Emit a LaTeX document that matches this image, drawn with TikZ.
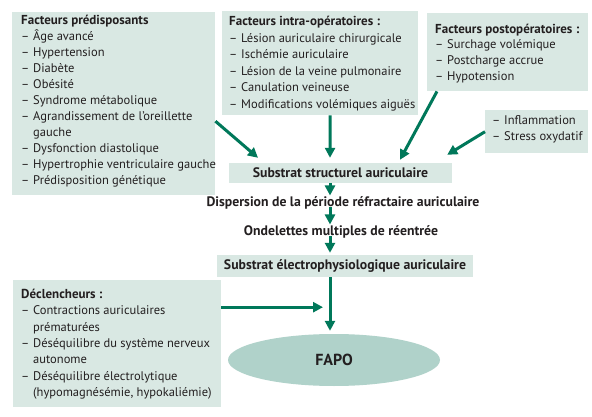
\documentclass[tikz,border=0pt]{standalone}
\usepackage{fontspec}
\setmainfont{PT Sans}
\usetikzlibrary{arrows.meta,shapes.geometric}
\definecolor{boxfill}{HTML}{D9E8E3}
\definecolor{arrowc}{HTML}{00785A}
\definecolor{ellfill}{HTML}{B0D2CA}
\definecolor{txt}{HTML}{231F20}
\newcommand\ttl[1]{\multicolumn{2}{@{}l@{}}{\fontsize{13}{16}\selectfont\bfseries #1}}
\newenvironment{dlist}{\renewcommand\arraystretch{1}\begin{tabular}{@{}l@{\hspace{0.3em}}l@{}}}{\end{tabular}}
\tikzset{
  panel/.style={fill=boxfill, draw=none, inner sep=0pt, anchor=north west},
  ptext/.style={anchor=north west, inner sep=0pt, text=txt,
     font=\fontsize{12.5}{16}\selectfont},
  btext/.style={inner sep=1pt, text=txt, font=\bfseries\fontsize{13.75}{16}\selectfont},
  arr/.style={draw=arrowc, line width=3pt, -{Triangle[length=10pt,width=10pt]}},
}
\begin{document}
\begin{tikzpicture}[x=1pt,y=-1pt]
\useasboundingbox (0,0) rectangle (592,417);
\fill[white] (0,0) rectangle (592,417);
% boxes
\node[panel, minimum width=203pt, minimum height=183pt] (b1) at (12,12) {};
\node[ptext] (b1t) at (21,13.5) {\begin{dlist}\ttl{Facteurs prédisposants}\\
– & Âge avancé\\ – & Hypertension\\ – & Diabète\\ – & Obésité\\ – & Syndrome métabolique\\
– & Agrandissement de l’oreillette\\ & gauche\\ – & Dysfonction diastolique\\
– & Hypertrophie ventriculaire gauche\\ – & Prédisposition génétique\end{dlist}};
\node[panel, minimum width=196pt, minimum height=104pt] (b2) at (222,11) {};
\node[ptext, font=\fontsize{12.5}{16.5}\selectfont] (b2t) at (229,14) {\begin{dlist}\ttl{Facteurs intra-opératoires :}\\
– & Lésion auriculaire chirurgicale\\ – & Ischémie auriculaire\\
– & Lésion de la veine pulmonaire\\ – & Canulation veineuse\\
– & Modifications volémiques aiguës\end{dlist}};
\node[panel, minimum width=161pt, minimum height=78pt] (b3) at (427,13) {};
\node[ptext, font=\fontsize{12.5}{15.7}\selectfont] (b3t) at (435,22) {\begin{dlist}\ttl{Facteurs postopératoires :}\\
– & Surchage volémique\\ – & Postcharge accrue\\ – & Hypotension\end{dlist}};
\node[panel, minimum width=103pt, minimum height=43pt] (b4) at (485,110) {};
\node[ptext] (b4t) at (492,113.5) {\begin{dlist}– & Inflammation\\ – & Stress oxydatif\end{dlist}};
\node[panel, minimum width=208pt, minimum height=127pt] (b5) at (13,280) {};
\node[ptext, font=\fontsize{12.5}{16.3}\selectfont] (b5t) at (21,287) {\begin{dlist}\ttl{Déclencheurs :}\\
– & Contractions auriculaires\\ & prématurées\\
– & Déséquilibre du système nerveux\\ & autonome\\
– & Déséquilibre électrolytique\\ & (hypomagnésémie, hypokaliémie)\end{dlist}};
% chain
\node[fill=boxfill, minimum width=223pt, minimum height=20pt, inner sep=0pt, text=txt,
  font=\bfseries\fontsize{13.75}{16}\selectfont] (sst) at (340.5,173) {Substrat structurel auriculaire};
\node[btext] (disp) at (343,203) {Dispersion de la période réfractaire auriculaire};
\node[btext] (ond) at (341,232) {Ondelettes multiples de réentrée};
\node[fill=boxfill, minimum width=256pt, minimum height=22pt, inner sep=0pt, text=txt,
  font=\bfseries\fontsize{13.75}{16}\selectfont] (sel) at (345,266) {Substrat électrophysiologique auriculaire};
\node[ellipse, fill=ellfill, minimum width=212pt, minimum height=52pt, inner sep=0pt,
  text=txt, font=\bfseries\fontsize{16}{19}\selectfont] (fapo) at (334,360) {FAPO};
% arrows
\draw[arr] ([yshift=-17.5pt]b1.east) -- ([xshift=-82.5pt,yshift=5pt]sst.north);
\draw[arr] ([xshift=10pt]b2.south) -- ([xshift=-10.5pt,yshift=5pt]sst.north);
\draw[arr] ([xshift=10pt]b3.south west) -- ([xshift=59.5pt,yshift=3pt]sst.north);
\draw[arr] (b4.west) -- ([xshift=-5pt,yshift=8pt]sst.north east);
\draw[arr] ([xshift=-10.5pt]sst.south) -- ([xshift=-13pt]disp.north);
\draw[arr] ([xshift=-13pt,yshift=4pt]disp.south) -- ([xshift=-11pt]ond.north);
\draw[arr] ([xshift=-11pt,yshift=4pt]ond.south) -- ([xshift=-15pt,yshift=2pt]sel.north);
\draw[arr] ([xshift=-15pt]sel.south) -- ([xshift=-4pt,yshift=3pt]fapo.north);
\draw[arr] ([yshift=36.5pt]b5.east) -- ([xshift=-11pt,yshift=36.5pt]b5.east -| fapo.north);
\end{tikzpicture}
\end{document}
